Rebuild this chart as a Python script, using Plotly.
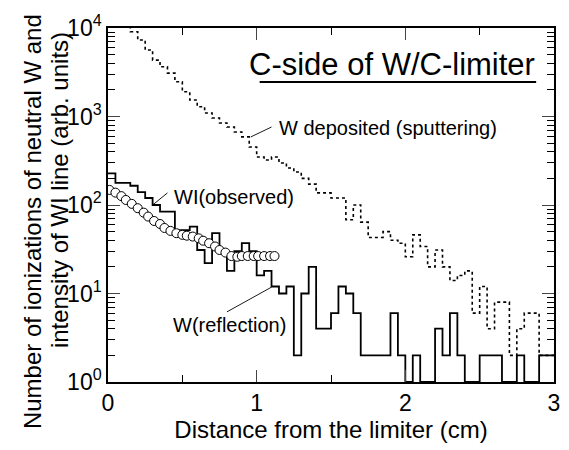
import plotly.graph_objects as go

# ---- data ----
bin_edges = [round(0.05 * i, 2) for i in range(61)]

w_deposited = [13000, 12000, 11000, 9080, 7310, 5640, 4340, 3650, 3090, 2470,
               1905, 1535, 1290, 1095, 960, 845, 760, 668, 588, 452,
               348, 322, 348, 298, 262, 236, 200, 172, 137, 137,
               120, 120, 68, 100, 64, 43, 43, 50, 40, 37,
               26, 46, 34, 20, 31, 20, 14, 16, 18, 6,
               12, 4, 8, 8, 2, 4, 6, 6, 2, 2]

w_reflection = [228, 178, 178, 165, 140, 120, 100, 84, 84, 52,
                52, 57, 31, 22, 48, 31, 18, 30, 37, 30,
                16, 18, 12, 10, 12, 2, 10, 20, 4, 4,
                6, 12, 10, 6, 2, 2, 2, 2, 6, 2,
                1, 2, 1, 1, 4, 2, 6, 2, 1, 1,
                2, 2, 2, 1, 1, 2, 1, 1, 2, 2]

wi_obs_x = [0.01, 0.05, 0.09, 0.12, 0.16, 0.20, 0.24, 0.27, 0.31, 0.35, 0.38,
            0.42, 0.46, 0.50, 0.53, 0.57, 0.61, 0.64, 0.68, 0.72, 0.75, 0.79,
            0.83, 0.87, 0.90, 0.94, 0.98, 1.01, 1.05, 1.09, 1.12]
wi_obs_y = [148, 138, 126, 114, 103, 92, 82, 74, 66, 61, 55,
            51, 48, 46, 45, 44, 42, 39.5, 37, 34, 31, 29,
            26.5, 26, 26.5, 26.5, 26.5, 26.5, 26.5, 26.5, 26.5]

y_tickvals = [1, 10, 100, 1000, 10000]
y_ticktext = ["10<sup>0</sup>", "10<sup>1</sup>", "10<sup>2</sup>", "10<sup>3</sup>", "10<sup>4</sup>"]
x_tickvals = [0, 1, 2, 3]

FONT = "Liberation Sans, Arial, sans-serif"

fig = go.Figure()

fig.add_trace(go.Scatter(
    x=bin_edges, y=w_deposited + [w_deposited[-1]], mode="lines",
    line=dict(shape="hv", color="black", width=1.6, dash="dot"),
    showlegend=False, hoverinfo="skip"))

fig.add_trace(go.Scatter(
    x=bin_edges, y=w_reflection + [w_reflection[-1]], mode="lines",
    line=dict(shape="hv", color="black", width=1.8),
    showlegend=False, hoverinfo="skip"))

fig.add_trace(go.Scatter(
    x=wi_obs_x, y=wi_obs_y, mode="markers",
    marker=dict(symbol="circle", size=9, color="white",
                line=dict(color="black", width=1)),
    showlegend=False, hoverinfo="skip"))

# leader lines and the title underline
leaders = [
    ([1.10, 0.96], [761, 587]),
    ([0.40, 0.30], [137, 100]),
    ([0.80, 1.10], [6.2, 11.8]),
    ([1.02, 2.88], [2455, 2455]),
]
for i, (lx, ly) in enumerate(leaders):
    fig.add_trace(go.Scatter(
        x=lx, y=ly, mode="lines",
        line=dict(color="black", width=2.2 if i == 3 else 0.9),
        showlegend=False, hoverinfo="skip"))

annos = [
    dict(x=1.14, y=2.87, text="W deposited (sputtering)", xanchor="left", size=20),
    dict(x=0.43, y=2.09, text="WI(observed)", xanchor="left", size=20),
    dict(x=0.425, y=0.644, text="W(reflection)", xanchor="left", size=20),
    dict(x=2.885, y=3.582, text="C-side of W/C-limiter", xanchor="right", size=31),
]
for a in annos:
    fig.add_annotation(x=a["x"], y=a["y"], xref="x", yref="y", text=a["text"],
                       showarrow=False, xanchor=a["xanchor"], yanchor="middle",
                       font=dict(family=FONT, size=a["size"], color="black"))

# y-axis title lines
fig.add_annotation(x=-0.168, y=0.452, xref="paper", yref="paper",
                   text="Number of ionizations of neutral W and", textangle=-90,
                   showarrow=False, xanchor="center", yanchor="middle",
                   font=dict(family=FONT, size=24, color="black"))
fig.add_annotation(x=-0.110, y=0.542, xref="paper", yref="paper",
                   text="intensity of WI line (arb. units)", textangle=-90,
                   showarrow=False, xanchor="center", yanchor="middle",
                   font=dict(family=FONT, size=24, color="black"))

minor_y = [m * 10 ** d for d in range(4) for m in range(2, 10)]

fig.update_layout(
    width=569, height=450,
    margin=dict(l=108, r=9, t=28, b=68),
    paper_bgcolor="white", plot_bgcolor="white",
    font=dict(family=FONT, size=23, color="black"),
    xaxis=dict(
        range=[0, 3], tickvals=x_tickvals, ticks="inside", ticklen=12, tickwidth=1.3,
        showline=True, linecolor="black", linewidth=1.5, mirror="ticks",
        showgrid=False, zeroline=False,
        tickfont=dict(family=FONT, size=23),
        minor=dict(dtick=0.5, ticks="inside", ticklen=7, tickwidth=1.2, tickcolor="black", showgrid=False),
        title=dict(text="Distance from the limiter (cm)", font=dict(family=FONT, size=24), standoff=4),
    ),
    yaxis=dict(
        type="log", range=[0, 4], tickvals=y_tickvals, ticktext=y_ticktext,
        ticks="inside", ticklen=12, tickwidth=1.3,
        showline=True, linecolor="black", linewidth=1.5, mirror="ticks",
        showgrid=False, zeroline=False,
        tickfont=dict(family=FONT, size=23),
        minor=dict(tickvals=minor_y, ticks="inside", ticklen=7, tickwidth=1.2, tickcolor="black", showgrid=False),
    ),
)

fig.write_html("out.html")
